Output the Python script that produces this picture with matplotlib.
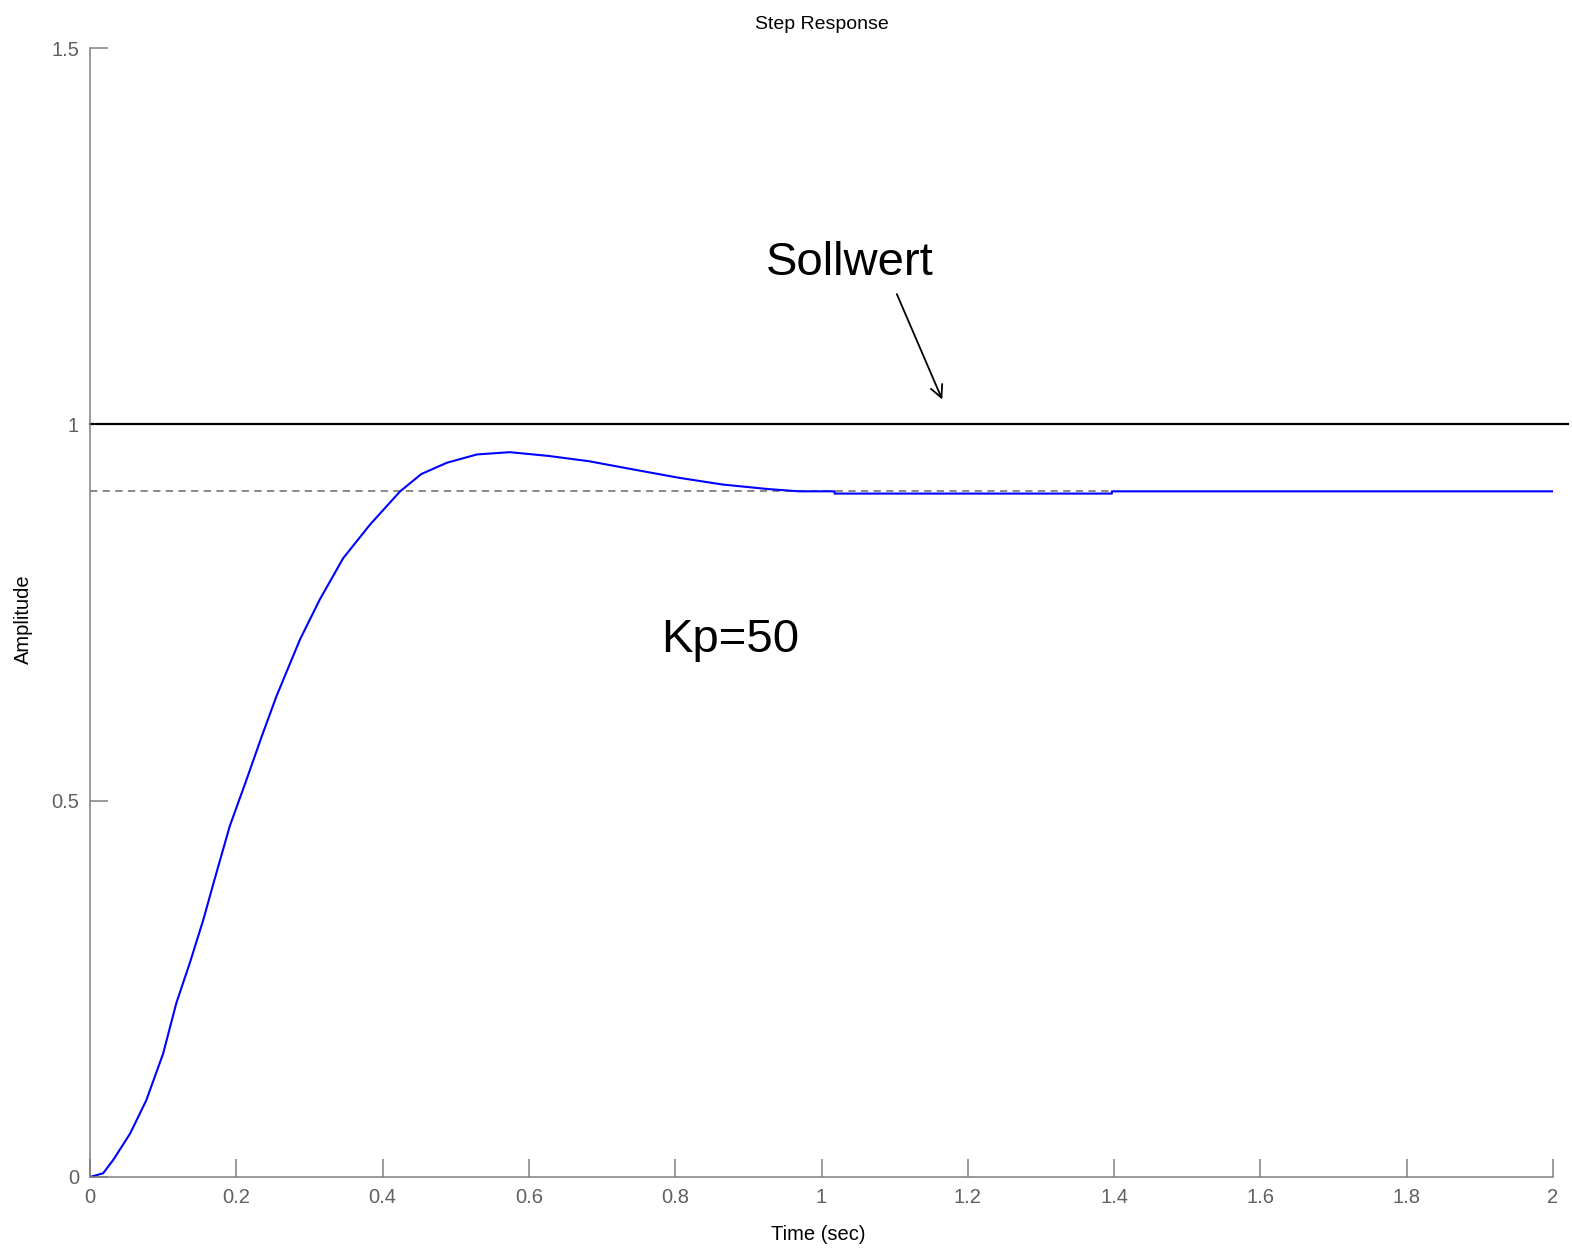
import matplotlib
matplotlib.use("Agg")
import matplotlib.pyplot as plt

plt.rcParams['font.family'] = ['Liberation Sans', 'DejaVu Sans']

# step response
t = [0, 0.018, 0.032, 0.055, 0.077, 0.100, 0.118, 0.137, 0.155, 0.169,
     0.191, 0.214, 0.235, 0.255, 0.287, 0.314, 0.346, 0.383, 0.424, 0.453,
     0.488, 0.529, 0.574, 0.627, 0.682, 0.743, 0.805, 0.865, 0.927, 0.969,
     1.018, 1.018, 1.397, 1.397, 2.0]
amp = [0, 0.005, 0.023, 0.058, 0.102, 0.164, 0.231, 0.286, 0.342, 0.391,
       0.466, 0.528, 0.586, 0.639, 0.714, 0.767, 0.822, 0.867, 0.911, 0.934,
       0.949, 0.960, 0.963, 0.958, 0.951, 0.940, 0.929, 0.920, 0.914, 0.911,
       0.911, 0.908, 0.908, 0.911, 0.911]

setpoint = 1.0
final_value = 0.911
settle_t = 1.397

xticks = [0, 0.2, 0.4, 0.6, 0.8, 1, 1.2, 1.4, 1.6, 1.8, 2]
yticks = [0, 0.5, 1, 1.5]

fig = plt.figure(figsize=(15.72, 12.58), dpi=100)
ax = fig.add_axes([90/1572, 81/1258, 1463/1572, 1129/1258])

gray = '#7f7f7f'
ax.plot([0, settle_t], [final_value, final_value], color=gray, lw=1.3,
        dashes=(4, 3))
ax.plot([0, 2.02], [setpoint, setpoint], color='black', lw=1.6, clip_on=False)
ax.plot(t, amp, color='#0000ff', lw=1.5)

ax.set_xlim(0, 2)
ax.set_ylim(0, 1.5)
ax.set_xticks(xticks)
ax.set_xticklabels(['0', '0.2', '0.4', '0.6', '0.8', '1', '1.2', '1.4', '1.6', '1.8', '2'])
ax.set_yticks(yticks)
ax.set_yticklabels(['0', '0.5', '1', '1.5'])

for s in ['top', 'right']:
    ax.spines[s].set_visible(False)
for s in ['left', 'bottom']:
    ax.spines[s].set_color(gray)
    ax.spines[s].set_linewidth(1.1)
ax.tick_params(direction='in', length=13, width=1.1, color=gray,
               labelcolor='#606060', labelsize=14.5, pad=8)

ax.set_title('Step Response', fontsize=14, pad=14)
ax.set_xlabel('Time (sec)', fontsize=14.5)
ax.set_ylabel('Amplitude', fontsize=14.5)
ax.xaxis.set_label_coords(0.4977, -0.0425)
ax.yaxis.set_label_coords(-0.039, 0.494)

ax.annotate('', xy=(1.165, 1.033), xytext=(1.103, 1.173),
            arrowprops=dict(arrowstyle='->', color='black', lw=1.3,
                            mutation_scale=22, shrinkA=0, shrinkB=0))
ax.text(1.039, 1.215, 'Sollwert', fontsize=34, ha='center', va='center')
ax.text(0.875, 0.714, 'Kp=50', fontsize=34, ha='center', va='center')

fig.savefig('out.png', dpi=100)
